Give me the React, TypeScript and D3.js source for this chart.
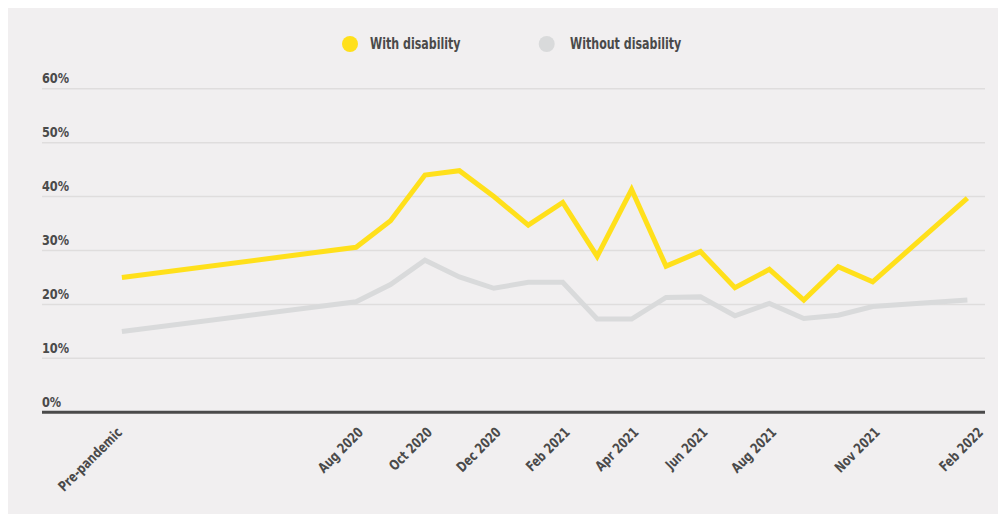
import React, { useEffect } from "react";
import * as d3 from "d3";

// Month index: 0 = Jan 2020
const pointMonths = [0.2, 7, 8, 9, 10, 11, 12, 13, 14, 15, 16, 17, 18, 19, 20, 21, 22, 24.75];
const withDisability = [25, 30.6, 35.5, 44.0, 44.8, 40.0, 34.7, 38.9, 28.9, 41.3, 27.1, 29.8, 23.1, 26.5, 20.8, 27.0, 24.2, 39.7];
const withoutDisability = [15, 20.5, 23.7, 28.2, 25.1, 23.0, 24.1, 24.1, 17.3, 17.3, 21.3, 21.4, 17.9, 20.2, 17.4, 18.0, 19.6, 20.8];

const tickMonths = [0, 7, 9, 11, 13, 15, 17, 19, 22, 25];
const tickLabels = ["Pre-pandemic", "Aug 2020", "Oct 2020", "Dec 2020", "Feb 2021", "Apr 2021", "Jun 2021", "Aug 2021", "Nov 2021", "Feb 2022"];
const yTicks = [0, 10, 20, 30, 40, 50, 60];

const seriesNames = ["With disability", "Without disability"];
const seriesColors = ["#ffe01b", "#d9dadb"];

const W = 998;
const H = 506;
const FONT = "'DejaVu Sans Condensed', 'DejaVu Sans', sans-serif";
const TEXT = "#4a4a4a";

export default function App() {
  useEffect(() => {
    document.body.style.overflow = "hidden";
  }, []);

  const x = d3.scaleLinear().domain([0, 25]).range([107, 968]);
  const y = d3.scaleLinear().domain([0, 60]).range([404.3, 80.7]);
  const gridX0 = 34;
  const gridX1 = 977;

  const line = d3
    .line<number>()
    .x((_, i) => x(pointMonths[i]))
    .y((d) => y(d))
    .curve(d3.curveLinear);

  const series = [withDisability, withoutDisability];
  const legendX = [342, 538.7];
  const legendTextX = [362, 562];

  return (
    <svg width={W} height={H} style={{ display: "block" }}>
      <rect x={0} y={0} width={W} height={H} fill="#f1eff0" />
      {yTicks.map((t) =>
        t === 0 ? null : (
          <line key={"g" + t} x1={gridX0} x2={gridX1} y1={y(t)} y2={y(t)} stroke="#dfdddd" strokeWidth={1.5} />
        )
      )}
      {yTicks.map((t) => (
        <text
          key={"yl" + t}
          transform={`translate(${gridX0},${y(t) - 5.5}) scale(0.9,1)`}
          fontFamily={FONT}
          fontWeight="bold"
          fontSize={14}
          fill={TEXT}
        >
          {t + "%"}
        </text>
      ))}
      {[1, 0].map((si) => (
        <path
          key={"s" + si}
          d={line(series[si]) || ""}
          fill="none"
          stroke={seriesColors[si]}
          strokeWidth={5}
          strokeLinejoin="miter"
          strokeLinecap="butt"
        />
      ))}
      <line x1={gridX0} x2={gridX1} y1={y(0)} y2={y(0)} stroke="#4a4a4a" strokeWidth={3} />
      {tickMonths.map((m, i) => (
        <text
          key={"xl" + i}
          transform={`translate(${x(m) + 8},${y(0) + 21}) rotate(-45) scale(0.85,1)`}
          textAnchor="end"
          fontFamily={FONT}
          fontWeight="bold"
          fontSize={14}
          fill={TEXT}
        >
          {tickLabels[i]}
        </text>
      ))}
      {seriesNames.map((n, i) => (
        <g key={"lg" + i}>
          <circle cx={legendX[i]} cy={36} r={8} fill={seriesColors[i]} />
          <text
            transform={`translate(${legendTextX[i]},40.5) scale(0.82,1)`}
            fontFamily={FONT}
            fontWeight="bold"
            fontSize={15}
            fill={TEXT}
          >
            {n}
          </text>
        </g>
      ))}
    </svg>
  );
}
